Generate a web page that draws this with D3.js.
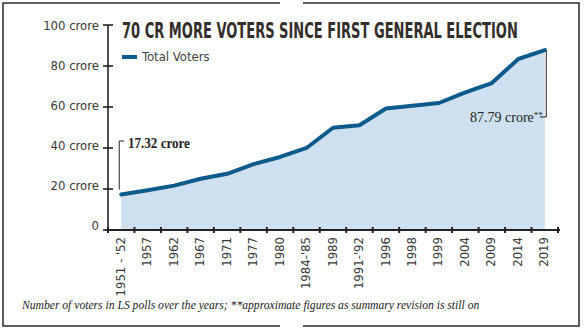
<!DOCTYPE html>
<html><head><meta charset="utf-8">
<script src="https://cdn.jsdelivr.net/npm/d3@7"></script>
<style>
html,body{margin:0;padding:0;background:#fff;}
svg{display:block;}
</style></head>
<body>
<svg id="chart" width="585" height="332"></svg>
<script>
const categories = ["1951 - '52","1957","1962","1967","1971","1977","1980","1984-'85","1989","1991-'92","1996","1998","1999","2004","2009","2014","2019"];
const voters = [17.32,19.37,21.64,25.02,27.42,32.11,35.62,40.01,49.89,51.12,59.26,60.59,61.95,67.15,71.70,83.41,87.79];
const yTicks = [0,20,40,60,80,100];
const yTickLabels = ["0","20 crore","40 crore","60 crore","80 crore","100 crore"];
const title = "70 CR MORE VOTERS SINCE FIRST GENERAL ELECTION";
const legendLabel = "Total Voters";
const footnote = "Number of voters in LS polls over the years; **approximate figures as summary revision is still on";

const data = categories.map((c,i)=>({cat:c, v:voters[i]}));
const svg = d3.select("#chart");
const narrow = "'Liberation Sans Narrow','DejaVu Sans Condensed','Arial Narrow',sans-serif";
const serif = "'Liberation Serif','DejaVu Serif',serif";

function fitText(sel, x0, y0, width){
  const n = sel.node();
  const w = n.getComputedTextLength();
  const k = w > 0 ? width / w : 1;
  sel.attr("x",0).attr("y",0).attr("transform",`translate(${x0},${y0}) scale(${k},1)`);
}

// frame with small gaps
const frame = svg.append("g").attr("stroke","#2a2a2a").attr("stroke-width",1.5).attr("fill","none");
frame.append("path").attr("d","M280,3 H3 V326 H280");
frame.append("path").attr("d","M303,3 H579 V326 H303");

const x = d3.scaleBand().domain(categories).range([108,558]).padding(0);
const y = d3.scaleLinear().domain([0,100]).range([230,25]);
const yLab = d3.scaleLinear().domain([0,100]).range([225,25]);
const cx = d => x(d) + x.bandwidth()/2;

// area + line
const area = d3.area().x(d=>cx(d.cat)).y0(y(0)).y1(d=>y(d.v));
const line = d3.line().x(d=>cx(d.cat)).y(d=>y(d.v));
svg.append("path").datum(data).attr("d",area).attr("fill","#cfe1f1");
svg.append("path").datum(data).attr("d",line).attr("fill","none")
  .attr("stroke","#0d5a8c").attr("stroke-width",4).attr("stroke-linejoin","round").attr("stroke-linecap","round");

// y axis
const yAxis = d3.axisLeft(y).tickValues(yTicks).tickSize(0).tickFormat("");
const ga = svg.append("g").attr("transform","translate(108,0)").call(yAxis);
ga.select(".domain").remove();
svg.append("line").attr("x1",108).attr("x2",108).attr("y1",y(100)).attr("y2",y(0))
  .attr("stroke","#222").attr("stroke-width",1.6);
svg.append("g").selectAll("line").data(yTicks).join("line")
  .attr("x1",103).attr("x2",113).attr("y1",d=>y(d)).attr("y2",d=>y(d))
  .attr("stroke","#222").attr("stroke-width",1.6);
svg.append("g").selectAll("text").data(yTicks).join("text")
  .attr("x",99).attr("y",d=>yLab(d)).attr("dy","0.35em")
  .attr("text-anchor","end").attr("font-family",narrow).attr("font-size",13)
  .attr("fill","#3a3a3a").text((d,i)=>yTickLabels[i]);

// x axis
const xAxis = d3.axisBottom(x).tickSize(0);
const gx = svg.append("g").attr("transform","translate(0,230)").call(xAxis);
gx.select(".domain").remove();
gx.selectAll("text")
  .attr("transform","rotate(-90)").attr("x",-7).attr("y",-1).attr("dy","0.35em")
  .attr("text-anchor","end").attr("font-family",narrow).attr("font-size",13).attr("fill","#3a3a3a");
svg.append("line").attr("x1",106).attr("x2",560).attr("y1",y(0)).attr("y2",y(0))
  .attr("stroke","#222").attr("stroke-width",2);
const edges = categories.map(c=>x(c)).concat([x.range()[1]]);
svg.append("g").selectAll("line").data(edges).join("line")
  .attr("x1",d=>d).attr("x2",d=>d).attr("y1",y(0)-3).attr("y2",y(0)+3)
  .attr("stroke","#222").attr("stroke-width",2);

// title
const tt = svg.append("text").attr("font-family",narrow).attr("font-weight","bold")
  .attr("font-size",22).attr("fill","#332e2b").text(title);
fitText(tt, 122, 38, 396);

// legend
svg.append("rect").attr("x",122).attr("y",55).attr("width",15).attr("height",4).attr("fill","#0d5a8c");
svg.append("text").attr("x",142).attr("y",61).attr("font-family",narrow).attr("font-size",13)
  .attr("fill","#444").text(legendLabel);

// annotation first
const f = data[0], l = data[data.length-1];
const fx = cx(f.cat)-2;
svg.append("path").attr("d",`M${fx+5},141 H${fx} V${y(f.v)-5}`).attr("fill","none").attr("stroke","#222").attr("stroke-width",1);
const t1 = svg.append("text").attr("font-family",serif).attr("font-size",14).attr("font-weight","bold")
  .attr("fill","#222").text(f.v.toFixed(2)+" crore");
fitText(t1, 128, 148, 62);

// annotation last
const lx = cx(l.cat)+1.5;
svg.append("path").attr("d",`M${lx},${y(l.v)} V117 H540`).attr("fill","none").attr("stroke","#222").attr("stroke-width",1);
const t2 = svg.append("text").attr("x",470).attr("y",122).attr("font-family",serif).attr("font-size",14).attr("fill","#222");
t2.append("tspan").text(l.v.toFixed(2)+" crore");
t2.append("tspan").attr("dy",-4).attr("font-size",9).text("**");

// footnote
const tf = svg.append("text").attr("font-family",serif).attr("font-style","italic")
  .attr("font-size",13.5).attr("fill","#222").text(footnote);
fitText(tf, 22, 309, 458);
</script>
</body></html>
